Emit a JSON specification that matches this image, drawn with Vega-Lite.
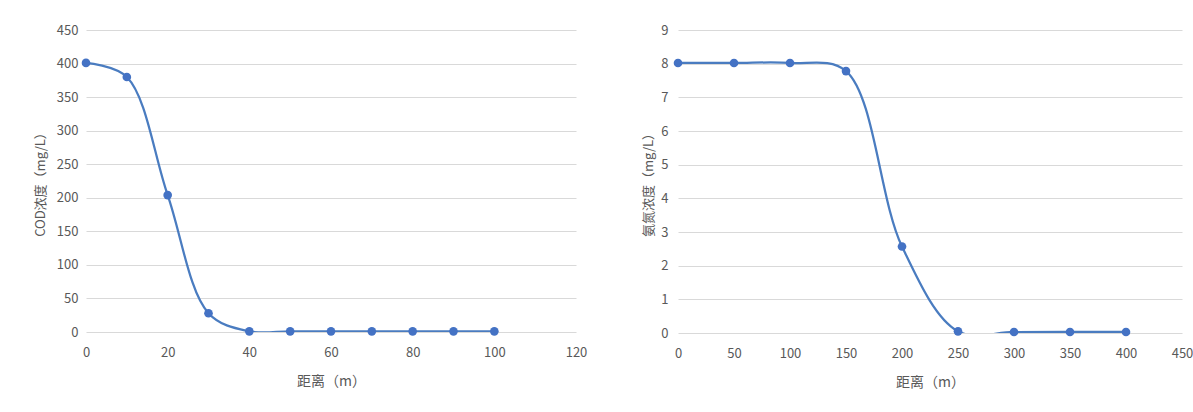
{
  "$schema": "https://vega.github.io/schema/vega-lite/v6.json",
  "background": "white",
  "padding": {"left": 34, "top": 24, "right": 0, "bottom": 0},
  "datasets": {
    "cod": [
      {"d": 0, "v": 401}, {"d": 10, "v": 380}, {"d": 20, "v": 204}, {"d": 30, "v": 28},
      {"d": 40, "v": 1}, {"d": 50, "v": 1}, {"d": 60, "v": 1}, {"d": 70, "v": 1},
      {"d": 80, "v": 1}, {"d": 90, "v": 1}, {"d": 100, "v": 1}
    ],
    "nh3": [
      {"d": 0, "v": 8.02}, {"d": 50, "v": 8.02}, {"d": 100, "v": 8.02}, {"d": 150, "v": 7.78},
      {"d": 200, "v": 2.57}, {"d": 250, "v": 0.05}, {"d": 300, "v": 0.03}, {"d": 350, "v": 0.03},
      {"d": 400, "v": 0.03}
    ]
  },
  "bounds": "flush",
  "spacing": 102,
  "config": {
    "font": "Noto Sans CJK SC",
    "view": {"stroke": null},
    "axis": {
      "labelFont": "Noto Sans CJK SC",
      "titleFont": "Noto Sans CJK SC",
      "labelColor": "#595959",
      "titleColor": "#595959",
      "labelFontSize": 13,
      "titleFontSize": 14,
      "titleFontWeight": "normal",
      "gridColor": "#D9D9D9",
      "domainColor": "#D9D9D9",
      "ticks": false,
      "labelFlush": false
    }
  },
  "hconcat": [
    {
      "width": 490,
      "height": 302,
      "data": {"name": "cod"},
      "encoding": {
        "x": {"field": "d", "type": "quantitative",
          "scale": {"domain": [0, 120], "nice": false, "zero": true},
          "axis": {"values": [0, 20, 40, 60, 80, 100, 120], "grid": false, "domain": false, "labelPadding": 14, "title": "距离（m）", "titlePadding": 15}},
        "y": {"field": "v", "type": "quantitative",
          "scale": {"domain": [0, 450], "nice": false},
          "axis": {"values": [0, 50, 100, 150, 200, 250, 300, 350, 400, 450], "domain": false, "labelPadding": 8, "title": "COD浓度（mg/L）", "titleFontSize": 13, "titlePadding": 9}}
      },
      "layer": [
        {"mark": {"type": "line", "interpolate": "catmull-rom", "color": "#4A7CC0", "strokeWidth": 2.25, "clip": true}},
        {"mark": {"type": "point", "filled": true, "opacity": 1, "color": "#4472C4", "size": 75}}
      ]
    },
    {
      "width": 504,
      "height": 303,
      "data": {"name": "nh3"},
      "encoding": {
        "x": {"field": "d", "type": "quantitative",
          "scale": {"domain": [0, 450], "nice": false, "zero": true},
          "axis": {"values": [0, 50, 100, 150, 200, 250, 300, 350, 400, 450], "grid": false, "domain": false, "labelPadding": 14, "title": "距离（m）", "titlePadding": 15}},
        "y": {"field": "v", "type": "quantitative",
          "scale": {"domain": [0, 9], "nice": false},
          "axis": {"values": [0, 1, 2, 3, 4, 5, 6, 7, 8, 9], "domain": false, "labelPadding": 10, "title": "氨氮浓度（mg/L）", "titleFontSize": 13, "titlePadding": 5}}
      },
      "layer": [
        {"mark": {"type": "line", "interpolate": "catmull-rom", "color": "#4A7CC0", "strokeWidth": 2.25, "clip": true}},
        {"mark": {"type": "point", "filled": true, "opacity": 1, "color": "#4472C4", "size": 75}}
      ]
    }
  ]
}
